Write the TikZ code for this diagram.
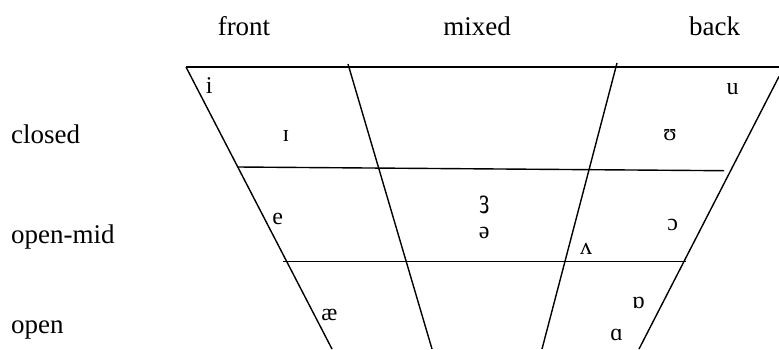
\documentclass[tikz,border=0pt]{standalone}
\usepackage{fontspec}
\setmainfont{Liberation Serif}
\begin{document}
\begin{tikzpicture}[x=1pt,y=-1pt,
  ln/.style={line width=1.4pt},
  lab/.style={inner sep=0pt,font=\fontsize{27}{30}\selectfont},
  vow/.style={inner sep=0pt,anchor=base,font=\fontsize{24}{28}\selectfont}]
\useasboundingbox (0,0) rectangle (779,349);
% frame coordinates
\coordinate (tl) at (186,67);
\coordinate (tr) at (779,67);
\coordinate (lb) at (332,349);
\coordinate (r1) at (779,76.5);
\coordinate (rb) at (639,349);
\coordinate (d1t) at (348,64);
\coordinate (d1b) at (432,349);
\coordinate (d2t) at (617,63);
\coordinate (d2b) at (542,349);
\coordinate (h2l) at (238,167);
\coordinate (h2r) at (724,170.7);
\coordinate (h3l) at (283,261.7);
\coordinate (h3r) at (686,261.7);
\draw[ln] (tl) -- (tr);
\draw[ln] (tl) -- (lb);
\draw[ln] (r1) -- (rb);
\draw[ln] (d1t) -- (d1b);
\draw[ln] (d2t) -- (d2b);
\draw[ln] (h2l) -- (h2r);
\draw[ln] (h3l) -- (h3r);
% column labels
\node[lab,anchor=base] (front) at (244,35.5) {front};
\node[lab,anchor=base] (mixed) at (477,35.5) {mixed};
\node[lab,anchor=base] (back) at (714.5,35.5) {back};
% row labels
\node[lab,anchor=base west] (closed) at (11,143) {closed};
\node[lab,anchor=base west] (openmid) at (11,243) {open-mid};
\node[lab,anchor=base west] (open) at (11,333) {open};
% vowels
\node[vow] (vi) at (209.3,93.3) {i};
\node[vow] (vI) at (286,141) {ɪ};
\node[vow] (vu) at (732.7,94.3) {u};
\node[vow] (vU) at (670,140) {ʊ};
\node[vow] (ve) at (277.7,224) {e};
\node[vow] (vae) at (329.3,320) {æ};
\node[vow] (v3) at (484.3,213.3) {\scalebox{1}[1.55]{ɜ}};
\node[vow] (vschwa) at (484.3,238.3) {ə};
\node[vow] (vV) at (586,254) {ʌ};
\node[vow] (vc) at (672.7,230) {ɔ};
\node[vow] (vQ) at (638.3,308) {ɒ};
\node[vow] (vA) at (616.7,340) {ɑ};
\end{tikzpicture}
\end{document}
